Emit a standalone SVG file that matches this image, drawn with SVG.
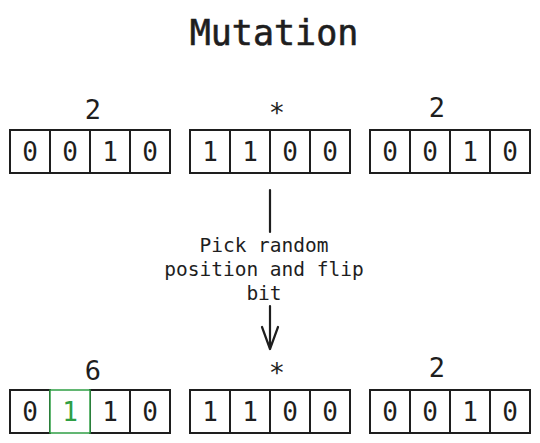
<svg xmlns="http://www.w3.org/2000/svg" width="540" height="443" viewBox="0 0 540 443">
<style>
.c{fill:#fff;stroke:#1e1e1e;stroke-width:2}
.g{fill:#fff;stroke:#2f9e44;stroke-width:1.5}
.t{font-family:"DejaVu Sans Mono","Liberation Mono",monospace;fill:#1e1e1e;text-anchor:middle}
.d{font-size:26px}
.l{font-size:27px}
.m{font-size:19.5px}
.gt{fill:#2f9e44}
.a{stroke:#1e1e1e;stroke-width:2.2;fill:none;stroke-linecap:round;stroke-linejoin:round}
</style>
<rect width="540" height="443" fill="#fff"/>
<text class="t" x="274" y="45" font-size="35" stroke="#1e1e1e" stroke-width="0.6">Mutation</text>
<g id="top1">
<text class="t l" x="93" y="119">2</text>
<rect class="c" x="10" y="130" width="40" height="43"/><rect class="c" x="50" y="130" width="40" height="43"/><rect class="c" x="90" y="130" width="40" height="43"/><rect class="c" x="130" y="130" width="40" height="43"/>
<text class="t d" x="30" y="161">0</text><text class="t d" x="70" y="161">0</text><text class="t d" x="110" y="161">1</text><text class="t d" x="150" y="161">0</text>
</g>
<g id="top2">
<text class="t l" x="277" y="122">*</text>
<rect class="c" x="190" y="130" width="40" height="43"/><rect class="c" x="230" y="130" width="40" height="43"/><rect class="c" x="270" y="130" width="40" height="43"/><rect class="c" x="310" y="130" width="40" height="43"/>
<text class="t d" x="210" y="161">1</text><text class="t d" x="250" y="161">1</text><text class="t d" x="290" y="161">0</text><text class="t d" x="330" y="161">0</text>
</g>
<g id="top3">
<text class="t l" x="437" y="117">2</text>
<rect class="c" x="370" y="130" width="40" height="43"/><rect class="c" x="410" y="130" width="40" height="43"/><rect class="c" x="450" y="130" width="40" height="43"/><rect class="c" x="490" y="130" width="40" height="43"/>
<text class="t d" x="390" y="161">0</text><text class="t d" x="430" y="161">0</text><text class="t d" x="470" y="161">1</text><text class="t d" x="510" y="161">0</text>
</g>
<g id="bot1">
<text class="t l" x="93" y="380">6</text>
<rect class="c" x="10" y="390" width="40" height="43"/><rect class="c" x="90" y="390" width="40" height="43"/><rect class="c" x="130" y="390" width="40" height="43"/>
<rect class="g" x="50" y="390" width="40" height="43"/>
<text class="t d" x="30" y="421">0</text><text class="t d gt" x="70" y="421">1</text><text class="t d" x="110" y="421">1</text><text class="t d" x="150" y="421">0</text>
</g>
<g id="bot2">
<text class="t l" x="277" y="382">*</text>
<rect class="c" x="190" y="390" width="40" height="43"/><rect class="c" x="230" y="390" width="40" height="43"/><rect class="c" x="270" y="390" width="40" height="43"/><rect class="c" x="310" y="390" width="40" height="43"/>
<text class="t d" x="210" y="421">1</text><text class="t d" x="250" y="421">1</text><text class="t d" x="290" y="421">0</text><text class="t d" x="330" y="421">0</text>
</g>
<g id="bot3">
<text class="t l" x="437" y="377">2</text>
<rect class="c" x="370" y="390" width="40" height="43"/><rect class="c" x="410" y="390" width="40" height="43"/><rect class="c" x="450" y="390" width="40" height="43"/><rect class="c" x="490" y="390" width="40" height="43"/>
<text class="t d" x="390" y="421">0</text><text class="t d" x="430" y="421">0</text><text class="t d" x="470" y="421">1</text><text class="t d" x="510" y="421">0</text>
</g>
<g id="connectors">
<path class="a" d="M270 190 L270 232"/>
<path class="a" d="M270 306 L270 349 M262 327 L270 349 L278 327"/>
<text class="t m" x="264" y="252">Pick random</text>
<text class="t m" x="264" y="276">position and flip</text>
<text class="t m" x="264" y="300">bit</text>
</g>
</svg>
